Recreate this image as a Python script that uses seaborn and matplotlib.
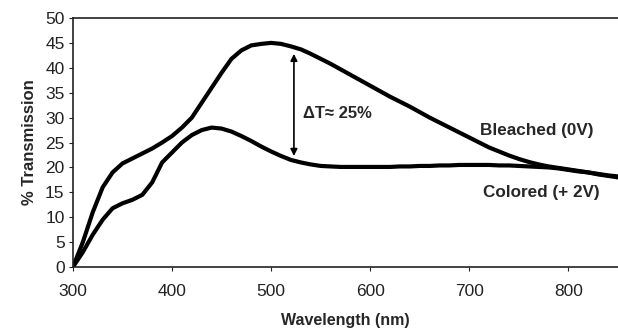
import numpy as np
import pandas as pd
import matplotlib
matplotlib.use("Agg")
import matplotlib.pyplot as plt
import seaborn as sns

# wavelengths (nm) and transmission (%)
wavelength = [300, 310, 320, 330, 340, 350, 360, 370, 380, 390,
              400, 410, 420, 430, 440, 450, 460, 470, 480, 490,
              500, 510, 520, 530, 540, 550, 560, 570, 580, 590,
              600, 610, 620, 630, 640, 650, 660, 670, 680, 690,
              700, 710, 720, 730, 740, 750, 760, 770, 780, 790,
              800, 810, 820, 830, 840, 850]
bleached = [0, 5, 11, 16, 19, 20.8, 21.8, 22.8, 23.8, 25,
            26.3, 28, 30, 33, 36, 39, 41.8, 43.5, 44.5, 44.8,
            45, 44.8, 44.3, 43.7, 42.8, 41.8, 40.8, 39.7, 38.6, 37.5,
            36.4, 35.3, 34.2, 33.2, 32.2, 31.1, 30, 29, 28, 27,
            26, 25, 24, 23.2, 22.4, 21.7, 21.1, 20.6, 20.2, 19.9,
            19.6, 19.3, 19, 18.7, 18.4, 18.2]
colored = [0, 3, 6.5, 9.5, 11.8, 12.8, 13.5, 14.5, 17, 21,
           23, 25, 26.5, 27.5, 28, 27.8, 27.2, 26.3, 25.3, 24.2,
           23.2, 22.3, 21.5, 21, 20.6, 20.3, 20.2, 20.1, 20.1, 20.1,
           20.1, 20.1, 20.1, 20.2, 20.2, 20.3, 20.3, 20.4, 20.4, 20.5,
           20.5, 20.5, 20.5, 20.4, 20.4, 20.3, 20.2, 20.1, 20, 19.8,
           19.5, 19.2, 19, 18.6, 18.3, 18]

df = pd.DataFrame({"wl": wavelength * 2,
                   "T": bleached + colored,
                   "state": ["Bleached"] * len(wavelength) + ["Colored"] * len(wavelength)})

sns.set_style("white")
plt.rcParams['font.family'] = ['Liberation Sans', 'DejaVu Sans']

fig = plt.figure(figsize=(6.18, 3.33), dpi=100)
ax = fig.add_axes([0.118, 0.198, 0.882, 0.748])
sns.lineplot(data=df, x="wl", y="T", units="state", estimator=None,
             color="black", lw=3, legend=False, ax=ax)

ax.set_xlim(300, 850)
ax.set_ylim(0, 50)
ax.set_xticks([300, 400, 500, 600, 700, 800])
ax.set_yticks(range(0, 51, 5))
ax.tick_params(labelsize=12.5, length=3, direction="out", width=0.8,
               left=True, bottom=True, colors="#222222")
ax.tick_params(axis="x", pad=9)
ax.tick_params(axis="y", pad=3)
for s in ["left", "bottom", "top"]:
    ax.spines[s].set_color("#222222")
    ax.spines[s].set_linewidth(1.2)
ax.spines["right"].set_visible(False)

ax.set_xlabel("Wavelength (nm)", fontsize=11.5, fontweight="bold", labelpad=10)
ax.set_ylabel("% Transmission", fontsize=12, fontweight="bold", labelpad=6)

ax.annotate("", xy=(523, 22.3), xytext=(523, 42.8),
            arrowprops=dict(arrowstyle="<|-|>", color="black", lw=1.2,
                            mutation_scale=10, shrinkA=0, shrinkB=0))
ax.text(532, 30.9, "ΔT≈ 25%", fontsize=12, fontweight="bold", va="center")
ax.text(711, 27.5, "Bleached (0V)", fontsize=12.3, fontweight="bold", va="center")
ax.text(714, 14.9, "Colored (+ 2V)", fontsize=12.3, fontweight="bold", va="center")

fig.savefig("out.png", dpi=100)
